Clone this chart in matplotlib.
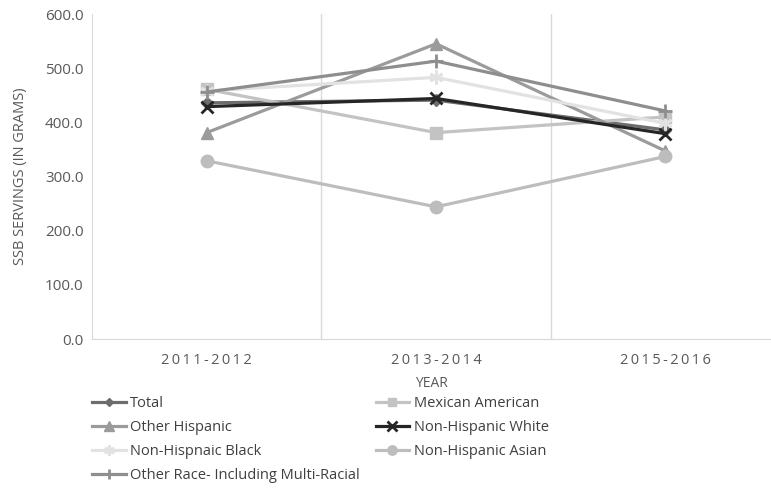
import matplotlib.pyplot as plt

plt.rcParams['font.family'] = ['Open Sans', 'DejaVu Sans']

# SSB servings by survey cycle
years = ['2011-2012', '2013-2014', '2015-2016']
total = [436, 441, 386]
mexican_american = [461, 381, 410]
other_hispanic = [381, 545, 347]
nh_white = [429, 444, 379]
nh_black = [458, 483, 398]
nh_asian = [329, 244, 337]
other_race = [456, 513, 421]

series = [
    ('Total', total, '#6d6d6d', 'D', 6),
    ('Mexican American', mexican_american, '#c3c3c3', 's', 8),
    ('Other Hispanic', other_hispanic, '#9b9b9b', '^', 9),
    ('Non-Hispanic White', nh_white, '#262626', 'x', 9),
    ('Non-Hispnaic Black', nh_black, '#e2e2e2', (6, 2, 0), 10),
    ('Non-Hispanic Asian', nh_asian, '#bdbdbd', 'o', 9),
    ('Other Race- Including Multi-Racial', other_race, '#8e8e8e', '+', 10),
]

fig = plt.figure(figsize=(7.71, 4.9), dpi=100)
ax = fig.add_axes([92 / 771, 151 / 490, 1 - 92 / 771, 325 / 490])

x = list(range(len(years)))
handles = {}
for name, vals, col, mk, ms in series:
    h, = ax.plot(x, vals, color=col, lw=2.3, marker=mk, markersize=ms,
                 markeredgewidth=2 if mk in ('x', '+', (6, 2, 0)) else 1,
                 markeredgecolor=col, label=name, solid_joinstyle='miter')
    handles[name] = h

ax.set_xlim(-0.5, 2.46)
ax.set_ylim(0, 600)
ax.set_yticks(range(0, 601, 100))
ax.set_yticklabels([f'{v:.1f}' for v in range(0, 601, 100)])
ax.set_xticks(x)
# spaced-out category labels
ax.set_xticklabels(['\u2009'.join(y) for y in years])
for b in [0.5, 1.5]:
    ax.axvline(b, color='#d9d9d9', lw=1, zorder=0)

for s in ['top', 'right']:
    ax.spines[s].set_visible(False)
for s in ['left', 'bottom']:
    ax.spines[s].set_color('#d9d9d9')
ax.tick_params(length=0, labelsize=10.5, labelcolor='#595959')
ax.tick_params(axis='x', pad=10)
ax.tick_params(axis='y', labelsize=11, pad=6)

ax.set_ylabel('SSB SERVINGS (IN GRAMS)', fontsize=10.5, color='#595959', labelpad=12)
ax.set_xlabel('YEAR', fontsize=10, color='#595959', labelpad=6)

order = ['Total', 'Other Hispanic', 'Non-Hispnaic Black',
         'Other Race- Including Multi-Racial',
         'Mexican American', 'Non-Hispanic White', 'Non-Hispanic Asian']
leg = fig.legend([handles[n] for n in order], order, ncol=2,
                 loc='upper left', bbox_to_anchor=(92 / 771, 1 - 396 / 490),
                 frameon=False, fontsize=10.5, handlelength=2.3,
                 handletextpad=0.3, columnspacing=1.1, labelspacing=0.62,
                 borderaxespad=0, borderpad=0, markerscale=0.75)
for t in leg.get_texts():
    t.set_color('#404040')

fig.savefig('out.png', dpi=100)
